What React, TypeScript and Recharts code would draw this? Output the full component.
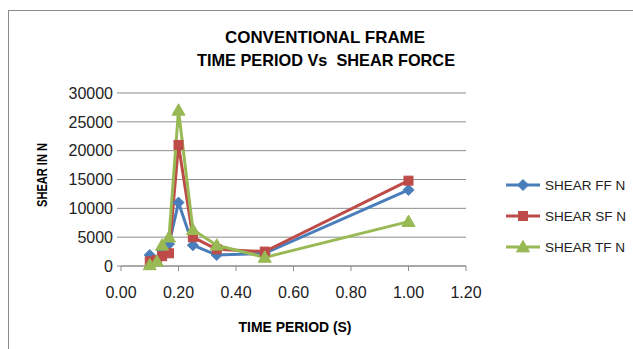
import React from 'react';
import { LineChart, Line, XAxis, YAxis, CartesianGrid } from 'recharts';

const timePeriods = [0.1, 0.125, 0.143, 0.167, 0.2, 0.25, 0.333, 0.5, 1.0];
const shearFF = [1900, 1000, 2700, 3800, 11000, 3600, 1900, 2200, 13200];
const shearSF = [800, 1000, 1700, 2200, 21000, 5000, 2900, 2500, 14800];
const shearTF = [200, 800, 3600, 5000, 27000, 6300, 3600, 1500, 7700];
const xTicks = [0, 0.2, 0.4, 0.6, 0.8, 1.0, 1.2];
const yTicks = [0, 5000, 10000, 15000, 20000, 25000, 30000];
const seriesNames = ['SHEAR FF N', 'SHEAR SF N', 'SHEAR TF N'];

const BLUE = '#4A7EBB';
const RED = '#BE4B48';
const GREEN = '#98B954';

const data = timePeriods.map((t, i) => ({
  t,
  ff: shearFF[i],
  sf: shearSF[i],
  tf: shearTF[i],
}));

const Diamond = (props: any) => {
  const { cx, cy } = props;
  if (cx == null || cy == null) return null;
  const r = 5.5;
  return <path d={`M${cx},${cy - r}L${cx + r},${cy}L${cx},${cy + r}L${cx - r},${cy}Z`} fill={BLUE} stroke={BLUE} strokeWidth={1} />;
};
const Square = (props: any) => {
  const { cx, cy } = props;
  if (cx == null || cy == null) return null;
  const s = 4.5;
  return <rect x={cx - s} y={cy - s} width={2 * s} height={2 * s} fill={RED} stroke={RED} strokeWidth={1} />;
};
const Triangle = (props: any) => {
  const { cx, cy } = props;
  if (cx == null || cy == null) return null;
  const r = 6.5;
  return <path d={`M${cx},${cy - r}L${cx + r},${cy + r * 0.75}L${cx - r},${cy + r * 0.75}Z`} fill={GREEN} stroke={GREEN} strokeWidth={1} />;
};

const font = '"Liberation Sans", Arial, sans-serif';

export default function App() {
  return (
    <div style={{ position: 'absolute', left: 0, top: 0, width: 633, height: 349, background: '#fff' }}>
      <LineChart
        width={633}
        height={349}
        data={data}
        margin={{ top: 93, left: 61, right: 167, bottom: 53 }}
      >
        <CartesianGrid horizontal={true} vertical={false} stroke="#8c8c8c" strokeWidth={1} />
        <XAxis
          type="number"
          dataKey="t"
          domain={[0, 1.2]}
          ticks={xTicks}
          tickFormatter={(v: number) => v.toFixed(2)}
          height={30}
          stroke="#8c8c8c"
          tickSize={5}
          tickMargin={16}
          tick={{ fill: '#222', fontSize: 16, fontFamily: font }}
          allowDataOverflow
        />
        <YAxis
          type="number"
          domain={[0, 30000]}
          ticks={yTicks}
          width={60}
          axisLine={false}
          tickLine={{ stroke: '#8c8c8c' }}
          tickSize={4}
          tickMargin={4}
          tick={{ fill: '#222', fontSize: 16, fontFamily: font }}
        />
        <Line dataKey="ff" stroke={BLUE} strokeWidth={3} dot={<Diamond />} activeDot={false} isAnimationActive={false} />
        <Line dataKey="sf" stroke={RED} strokeWidth={3} dot={<Square />} activeDot={false} isAnimationActive={false} />
        <Line dataKey="tf" stroke={GREEN} strokeWidth={3} dot={<Triangle />} activeDot={false} isAnimationActive={false} />
      </LineChart>
      <svg width={633} height={349} style={{ position: 'absolute', left: 0, top: 0, pointerEvents: 'none' }}>
        <line x1={8.5} y1={10} x2={8.5} y2={349} stroke="#8a8a8a" strokeWidth={1} />
        <line x1={8} y1={10.5} x2={633} y2={10.5} stroke="#8a8a8a" strokeWidth={1} />
        <text x={325} y={43} textAnchor="middle" fontFamily={font} fontWeight="bold" fontSize={17} fill="#000" textLength={200} lengthAdjust="spacingAndGlyphs">CONVENTIONAL FRAME</text>
        <text x={326} y={66} textAnchor="middle" fontFamily={font} fontWeight="bold" fontSize={17} fill="#000" textLength={258} lengthAdjust="spacingAndGlyphs" style={{ whiteSpace: 'pre' }}>TIME PERIOD Vs  SHEAR FORCE</text>
        <text x={295} y={332} textAnchor="middle" fontFamily={font} fontWeight="bold" fontSize={14} fill="#000" textLength={113} lengthAdjust="spacingAndGlyphs">TIME PERIOD (S)</text>
        <text transform="translate(47,175) rotate(-90)" textAnchor="middle" fontFamily={font} fontWeight="bold" fontSize={14} fill="#000" textLength={64} lengthAdjust="spacingAndGlyphs">SHEAR IN N</text>
        {[BLUE, RED, GREEN].map((c, i) => {
          const y = 185 + i * 31;
          const cx = 523;
          return (
            <g key={i}>
              <line x1={506} y1={y} x2={540} y2={y} stroke={c} strokeWidth={3} />
              {i === 0 && <Diamond cx={cx} cy={y} />}
              {i === 1 && <Square cx={cx} cy={y} />}
              {i === 2 && <Triangle cx={cx} cy={y} />}
              <text x={545} y={y + 5} fontFamily={font} fontSize={13.5} fill="#222">{seriesNames[i]}</text>
            </g>
          );
        })}
      </svg>
    </div>
  );
}
